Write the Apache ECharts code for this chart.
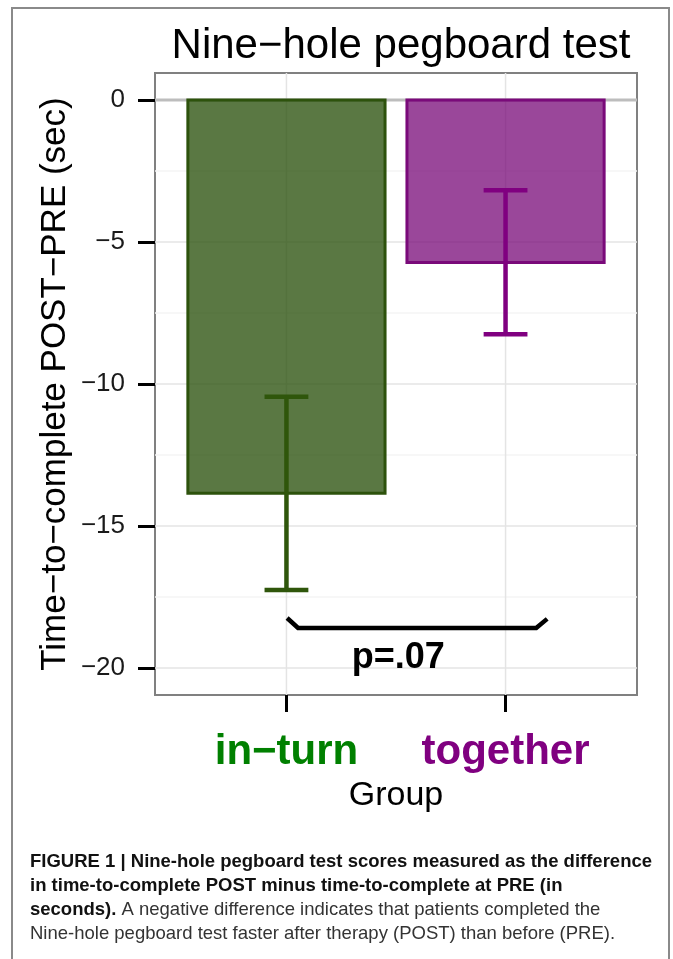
<!DOCTYPE html>
<html><head><meta charset="utf-8">
<script src="https://cdn.jsdelivr.net/npm/echarts@6/dist/echarts.min.js"></script>
<style>html,body{margin:0;padding:0;background:#fff}#c{width:673px;height:959px}</style>
</head><body><div id="c"></div>
<script>
// ---- data ----
var groups = ['in\u2212turn', 'together'];
var groupX = [0, 1];
var means = [-13.85, -5.72];
var errLow = [-17.25, -8.25];
var errHigh = [-10.45, -3.18];
var yTicks = [0, -5, -10, -15, -20];
var yMinor = [-2.5, -7.5, -12.5, -17.5];
var braceX = [0.003, 0.053, 1.14, 1.19];
var braceY = [-18.24, -18.59, -18.59, -18.27];
var pText = 'p=.07';
var pPos = [0.51, -19.65];
var titleText = 'Nine\u2212hole pegboard test';
var yName = 'Time\u2212to\u2212complete POST\u2212PRE (sec)';
var xName = 'Group';
var captionLines = [
  [['b', 'FIGURE 1 | Nine-hole pegboard test scores measured as the difference']],
  [['b', 'in time-to-complete POST minus time-to-complete at PRE (in']],
  [['b', 'seconds).'], ['n', ' A negative difference indicates that patients completed the']],
  [['n', 'Nine-hole pegboard test faster after therapy (POST) than before (PRE).']]
];

// ---- styles ----
var FONT = "'Liberation Sans', Arial, sans-serif";
var fills = ['rgba(40,80,10,0.77)', 'rgba(120,10,120,0.75)'];
var strokes = ['#2d520c', '#7a0a7a'];
var errColors = ['#2f560b', '#800080'];
var labelColors = ['#008000', '#800080'];
var majorGrid = '#e4e4e4';
var minorGrid = '#f4f4f4';

var chart = echarts.init(document.getElementById('c'), null, {renderer: 'canvas'});

var capGraphics = [{
  type: 'rect', shape: {x: 12, y: 8, width: 657, height: 1000},
  style: {fill: 'none', stroke: '#8a8a8a', lineWidth: 2}, z: -10
}];
var capY = [863, 887, 911, 935];
captionLines.forEach(function (line, i) {
  var txt = line.map(function (p) { return '{' + p[0] + '|' + p[1] + '}'; }).join('');
  capGraphics.push({
    type: 'text', left: 30, top: capY[i] - 11,
    style: {
      text: txt,
      rich: {
        b: {fontFamily: FONT, fontSize: 18.5, fontWeight: 'bold', fill: '#111'},
        n: {fontFamily: FONT, fontSize: 18.5, fill: '#333'}
      }
    }
  });
});

// grid line records (value, orientation, kind)
var gridRecs = [];
yMinor.forEach(function (v) { gridRecs.push([v, 0, 0]); });
yTicks.forEach(function (v) { if (v !== 0) gridRecs.push([v, 0, 1]); });
groupX.forEach(function (v) { gridRecs.push([v, 1, 1]); });
yTicks.forEach(function (v) { if (v === 0) gridRecs.push([v, 0, 2]); });

var option = {
  animation: false,
  backgroundColor: '#fff',
  title: {
    text: titleText, left: 396, top: 20, textAlign: 'center',
    textStyle: {fontFamily: FONT, fontSize: 42, fontWeight: 'normal', color: '#000'}
  },
  grid: {left: 155, right: 36, top: 73, bottom: 264, show: true, borderColor: '#808080', borderWidth: 2, backgroundColor: 'transparent'},
  xAxis: {
    type: 'value', min: -0.6, max: 1.6,
    axisLine: {show: false, onZero: false},
    splitLine: {show: false},
    axisTick: {show: true, inside: false, customValues: groupX, length: 17, lineStyle: {color: '#000', width: 3}},
    axisLabel: {
      customValues: groupX, margin: 36,
      formatter: function (v) { var i = groupX.indexOf(v); return i < 0 ? '' : '{g' + i + '|' + groups[i] + '}'; },
      rich: {
        g0: {fontFamily: FONT, fontSize: 42, fontWeight: 'bold', color: labelColors[0]},
        g1: {fontFamily: FONT, fontSize: 42, fontWeight: 'bold', color: labelColors[1]}
      }
    },
    name: xName, nameLocation: 'middle', nameGap: 84, nameMoveOverlap: false,
    nameTextStyle: {fontFamily: FONT, fontSize: 34, color: '#000'}
  },
  yAxis: {
    type: 'value', min: -20.95, max: 0.95,
    axisLine: {show: false, onZero: false},
    splitLine: {show: false},
    axisTick: {show: true, inside: false, customValues: yTicks, length: 17, lineStyle: {color: '#000', width: 3}},
    axisLabel: {
      customValues: yTicks, margin: 30,
      fontFamily: FONT, fontSize: 26, color: '#1a1a1a',
      formatter: function (v) { return String(v).replace('-', '\u2212'); }
    },
    name: yName, nameLocation: 'middle', nameGap: 82, nameRotate: 90, nameMoveOverlap: false,
    nameTextStyle: {fontFamily: FONT, fontSize: 35, color: '#000'}
  },
  graphic: capGraphics,
  series: [
    {
      type: 'custom', z: 1, silent: true,
      data: gridRecs,
      renderItem: function (params, api) {
        var v = api.value(0), o = api.value(1), k = api.value(2);
        var cs = params.coordSys;
        var color = k === 0 ? minorGrid : (k === 1 ? majorGrid : '#bdbdbd');
        var w = k === 2 ? 3 : 1.5;
        var shape;
        if (o === 0) {
          var y = api.coord([0, v])[1];
          shape = {x1: cs.x, y1: y, x2: cs.x + cs.width, y2: y};
        } else {
          var x = api.coord([v, 0])[0];
          shape = {x1: x, y1: cs.y, x2: x, y2: cs.y + cs.height};
        }
        return {type: 'line', shape: shape, style: {stroke: color, lineWidth: w}};
      }
    },
    {
      type: 'custom', z: 3,
      data: groupX.map(function (x, i) { return [x, means[i], i]; }),
      renderItem: function (params, api) {
        var x = api.value(0), v = api.value(1), i = api.value(2);
        var p0 = api.coord([x - 0.45, 0]);
        var p1 = api.coord([x + 0.45, v]);
        return {
          type: 'rect',
          shape: {x: p0[0], y: p0[1], width: p1[0] - p0[0], height: p1[1] - p0[1]},
          style: {fill: fills[i], stroke: strokes[i], lineWidth: 3}
        };
      }
    },
    {
      type: 'custom', z: 4,
      data: groupX.map(function (x, i) { return [x, errLow[i], errHigh[i], i]; }),
      renderItem: function (params, api) {
        var x = api.value(0), lo = api.value(1), hi = api.value(2), i = api.value(3);
        var a = api.coord([x, hi]), b = api.coord([x, lo]);
        var l1 = api.coord([x - 0.1, hi]), r1 = api.coord([x + 0.1, hi]);
        var l2 = api.coord([x - 0.1, lo]), r2 = api.coord([x + 0.1, lo]);
        var st = {stroke: errColors[i], lineWidth: 4.5};
        return {type: 'group', children: [
          {type: 'line', shape: {x1: a[0], y1: a[1], x2: b[0], y2: b[1]}, style: st},
          {type: 'line', shape: {x1: l1[0], y1: l1[1], x2: r1[0], y2: r1[1]}, style: st},
          {type: 'line', shape: {x1: l2[0], y1: l2[1], x2: r2[0], y2: r2[1]}, style: st}
        ]};
      }
    },
    {
      type: 'line', z: 5, symbol: 'none', silent: true,
      data: braceX.map(function (x, i) { return [x, braceY[i]]; }),
      lineStyle: {color: '#000', width: 4.5, cap: 'butt', join: 'miter'}
    },
    {
      type: 'custom', z: 6, silent: true,
      data: [pPos],
      renderItem: function (params, api) {
        var p = api.coord([api.value(0), api.value(1)]);
        return {type: 'text', x: p[0], y: p[1], style: {
          text: pText, fontFamily: FONT, fontSize: 36, fontWeight: 'bold', fill: '#000',
          align: 'center', verticalAlign: 'middle'
        }};
      }
    }
  ]
};
chart.setOption(option);
</script>
</body></html>
